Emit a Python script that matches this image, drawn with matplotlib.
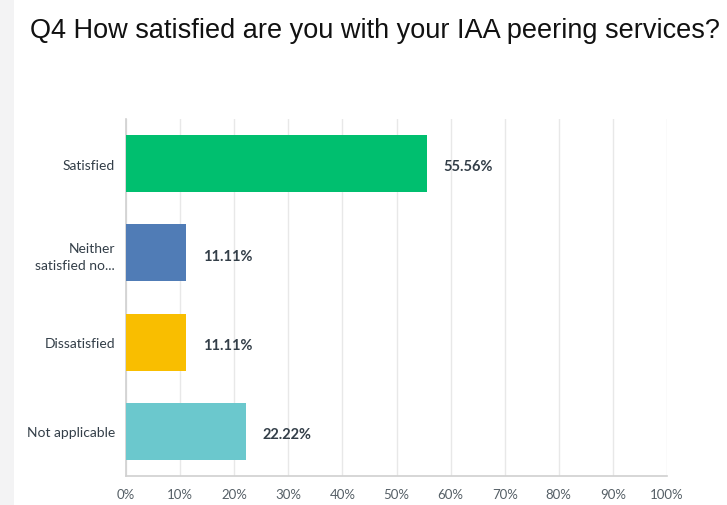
import matplotlib
matplotlib.use("Agg")
import matplotlib.pyplot as plt
from matplotlib.patches import Rectangle

title = "Q4 How satisfied are you with your IAA peering services?"
categories = ["Satisfied", "Neither\nsatisfied no...", "Dissatisfied", "Not applicable"]
values = [55.56, 11.11, 11.11, 22.22]
colors = ["#00BF6F", "#507CB6", "#F9BE00", "#6BC8CD"]
xticks = list(range(0, 101, 10))
xticklabels = [f"{t}%" for t in xticks]

W, H = 727, 506
fig = plt.figure(figsize=(W / 100, H / 100), dpi=100)
fig.patch.set_facecolor("white")

# light grey strip on the left edge
fig.patches.append(Rectangle((0, 0), 14 / W, 1, transform=fig.transFigure,
                             facecolor="#f3f3f4", edgecolor="none", zorder=0))

left, right = 126 / W, 667 / W
top, bottom = 1 - 120 / H, 1 - 477 / H
ax = fig.add_axes([left, bottom, right - left, top - bottom])

ypos = list(range(len(categories)))
ax.barh(ypos, values, height=0.64, color=colors, zorder=3)
ax.set_xlim(0, 100)
ax.set_ylim(len(categories) - 0.5, -0.5)

for y, v in zip(ypos, values):
    ax.annotate(f"{v:.2f}%", xy=(v, y), xytext=(12, -2), textcoords="offset points",
                va="center", ha="left", fontsize=10.5, fontweight="bold",
                color="#333e48", family="Lato")

ax.set_yticks(ypos)
ax.set_yticklabels(categories, fontsize=10, color="#333e48", family="Lato",
                   linespacing=1.5)
ax.set_xticks(xticks)
ax.set_xticklabels(xticklabels, fontsize=9.5, color="#555f66", family="Lato")
ax.tick_params(axis="y", length=0, pad=8)
ax.tick_params(axis="x", length=0, pad=9)

ax.grid(axis="x", color="#e8e8e8", linewidth=1, zorder=0)
for s in ["top", "right"]:
    ax.spines[s].set_visible(False)
for s in ["left", "bottom"]:
    ax.spines[s].set_color("#d0d0d0")
    ax.spines[s].set_linewidth(1.2)

fig.text(30 / W, 1 - 31 / H, title, fontsize=19.5, family="Liberation Sans",
         color="#111111", va="center", ha="left")

fig.savefig("out.png", dpi=100)
